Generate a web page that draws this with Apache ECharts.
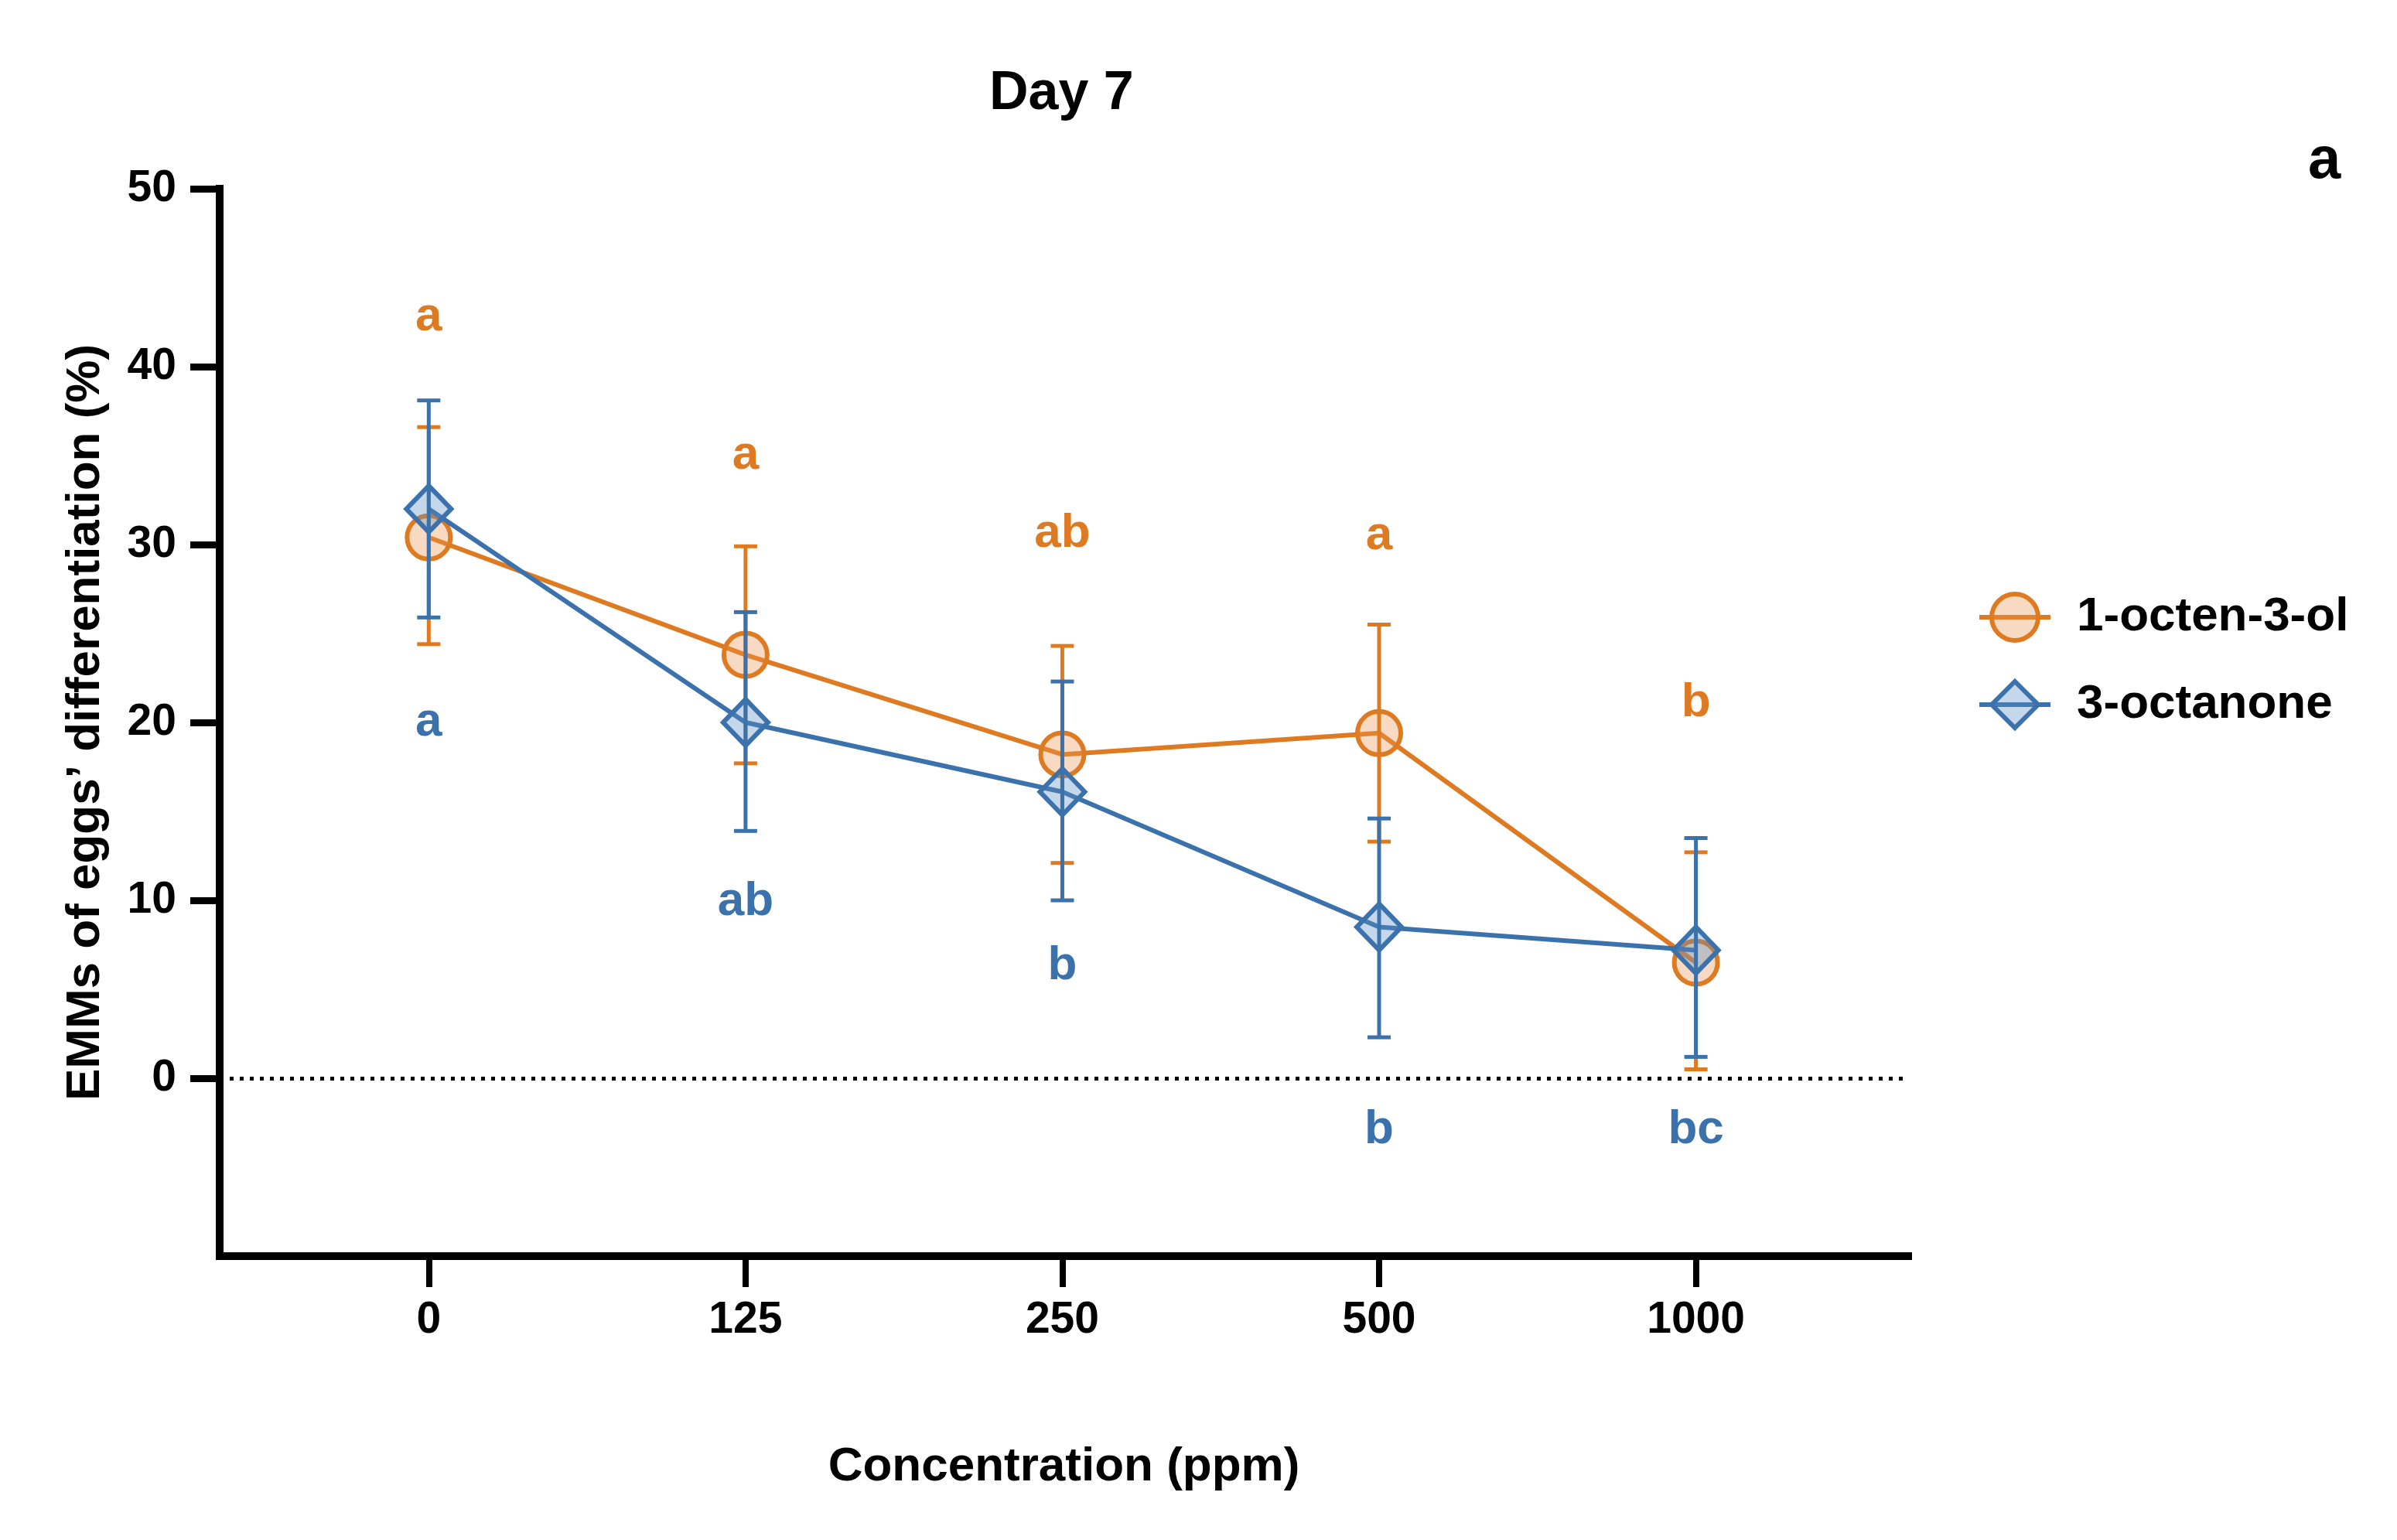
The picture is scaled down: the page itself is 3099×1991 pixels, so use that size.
<!DOCTYPE html>
<html><head><meta charset="utf-8">
<script src="https://cdn.jsdelivr.net/npm/echarts@6/dist/echarts.min.js"></script>
<style>html,body{margin:0;padding:0;background:#fff}#c{width:3099px;height:1991px}</style>
</head><body><div id="c"></div>
<script>
const categories = ['0', '125', '250', '500', '1000'];
const seriesNames = ['1-octen-3-ol', '3-octanone'];
const octenolMean = [30.4, 23.8, 18.2, 19.4, 6.5];
const octenolUpper = [36.6, 29.9, 24.3, 25.5, 12.7];
const octenolLower = [24.4, 17.7, 12.1, 13.3, 0.5];
const octanoneMean = [32.0, 20.0, 16.1, 8.5, 7.2];
const octanoneUpper = [38.1, 26.2, 22.3, 14.6, 13.5];
const octanoneLower = [25.9, 13.9, 10.0, 2.3, 1.2];
const octenolLetters = ['a', 'a', 'ab', 'a', 'b'];
const octenolLetterY = [42.8, 35.0, 30.6, 30.5, 21.1];
const octanoneLetters = ['a', 'ab', 'b', 'b', 'bc'];
const octanoneLetterY = [20.0, 9.9, 6.3, -2.9, -2.9];
const yTicks = [0, 10, 20, 30, 40, 50];
const xTicks = [0, 1, 2, 3, 4];

const FONT = "'Liberation Sans', Arial, Helvetica, sans-serif";
const ORANGE = '#DE7A22';
const BLUE = '#3C72AC';
const ORANGE_FILL = 'rgba(236,150,80,0.35)';
const BLUE_FILL = 'rgba(90,140,195,0.35)';

function errorRender(color) {
  return function (params, api) {
    const x = api.value(0), lo = api.value(1), hi = api.value(2);
    const pLo = api.coord([x, lo]), pHi = api.coord([x, hi]);
    const cap = 15;
    const style = { stroke: color, lineWidth: 5, fill: null };
    return {
      type: 'group',
      children: [
        { type: 'line', shape: { x1: pLo[0], y1: pLo[1], x2: pHi[0], y2: pHi[1] }, style: style },
        { type: 'line', shape: { x1: pLo[0] - cap, y1: pLo[1], x2: pLo[0] + cap, y2: pLo[1] }, style: style },
        { type: 'line', shape: { x1: pHi[0] - cap, y1: pHi[1], x2: pHi[0] + cap, y2: pHi[1] }, style: style }
      ]
    };
  };
}
function letterRender(color, letters) {
  return function (params, api) {
    const p = api.coord([api.value(0), api.value(1)]);
    return {
      type: 'text', x: p[0], y: p[1],
      style: { text: letters[params.dataIndex], fill: color, fontSize: 62, fontWeight: 'bold',
               fontFamily: FONT, align: 'center', verticalAlign: 'middle' }
    };
  };
}

const chart = echarts.init(document.getElementById('c'));
chart.setOption({
  backgroundColor: '#fff',
  animation: false,
  title: [
    { text: 'Day 7', left: 1274, top: 82,
      textStyle: { fontSize: 70, fontWeight: 'bold', color: '#000', fontFamily: FONT } },
    { text: 'a', left: 2979, top: 166,
      textStyle: { fontSize: 76, fontWeight: 'bold', color: '#000', fontFamily: FONT } }
  ],
  legend: {
    data: seriesNames, orient: 'vertical', left: 2551, top: 760,
    itemWidth: 92, itemHeight: 75, itemGap: 47,
    itemStyle: { borderWidth: 6 },
    lineStyle: { width: 6 },
    textStyle: { fontSize: 62, fontWeight: 'bold', color: '#000', fontFamily: FONT, padding: [0, 0, 0, 29] }
  },
  grid: { left: 284, right: 632, top: 244, bottom: 367, containLabel: false },
  xAxis: {
    type: 'value', min: -0.66, max: 4.67,
    axisLine: { show: true, onZero: false, lineStyle: { color: '#000', width: 10, cap: 'square' } },
    axisTick: { show: true, customValues: xTicks, length: 40, lineStyle: { color: '#000', width: 8 } },
    axisLabel: { customValues: xTicks, formatter: v => categories[Math.round(v)], margin: 55,
      fontSize: 57, fontWeight: 'bold', color: '#000', fontFamily: FONT },
    splitLine: { show: false },
    name: 'Concentration (ppm)', nameLocation: 'middle', nameGap: 242,
    nameTextStyle: { fontSize: 62, fontWeight: 'bold', color: '#000', fontFamily: FONT }
  },
  yAxis: {
    type: 'value', min: -10, max: 50, interval: 10,
    axisLine: { show: true, onZero: false, lineStyle: { color: '#000', width: 10, cap: 'square' } },
    axisTick: { show: true, customValues: yTicks, length: 38, lineStyle: { color: '#000', width: 9 } },
    axisLabel: { customValues: yTicks, margin: 56,
      fontSize: 57, fontWeight: 'bold', color: '#000', fontFamily: FONT },
    splitLine: { show: false },
    name: 'EMMs of eggs\u2019 differentiation (%)', nameLocation: 'middle', nameGap: 142, nameRotate: 90,
    nameTextStyle: { fontSize: 62, fontWeight: 'bold', color: '#000', fontFamily: FONT }
  },
  series: [
    {
      name: seriesNames[0], type: 'line', z: 2,
      data: octenolMean.map((v, i) => [i, v]),
      symbol: 'circle', symbolSize: 56,
      lineStyle: { color: ORANGE, width: 6 },
      itemStyle: { color: ORANGE_FILL, borderColor: ORANGE, borderWidth: 6 },
      markLine: {
        silent: true, symbol: 'none', label: { show: false },
        lineStyle: { color: '#000', type: [5, 8], width: 5 },
        data: [{ yAxis: 0 }]
      }
    },
    {
      name: 'err1', type: 'custom', z: 3,
      renderItem: errorRender(ORANGE),
      data: octenolMean.map((v, i) => [i, octenolLower[i], octenolUpper[i]]),
      encode: { x: 0, y: [1, 2] }
    },
    {
      name: seriesNames[1], type: 'line', z: 4,
      data: octanoneMean.map((v, i) => [i, v]),
      symbol: 'diamond', symbolSize: [58, 60],
      lineStyle: { color: BLUE, width: 6 },
      itemStyle: { color: BLUE_FILL, borderColor: BLUE, borderWidth: 6 }
    },
    {
      name: 'err2', type: 'custom', z: 5,
      renderItem: errorRender(BLUE),
      data: octanoneMean.map((v, i) => [i, octanoneLower[i], octanoneUpper[i]]),
      encode: { x: 0, y: [1, 2] }
    },
    {
      name: 'letters1', type: 'custom', z: 6,
      renderItem: letterRender(ORANGE, octenolLetters),
      data: octenolLetterY.map((v, i) => [i, v]),
      encode: { x: 0, y: 1 }
    },
    {
      name: 'letters2', type: 'custom', z: 6,
      renderItem: letterRender(BLUE, octanoneLetters),
      data: octanoneLetterY.map((v, i) => [i, v]),
      encode: { x: 0, y: 1 }
    }
  ]
});
</script>
</body></html>
